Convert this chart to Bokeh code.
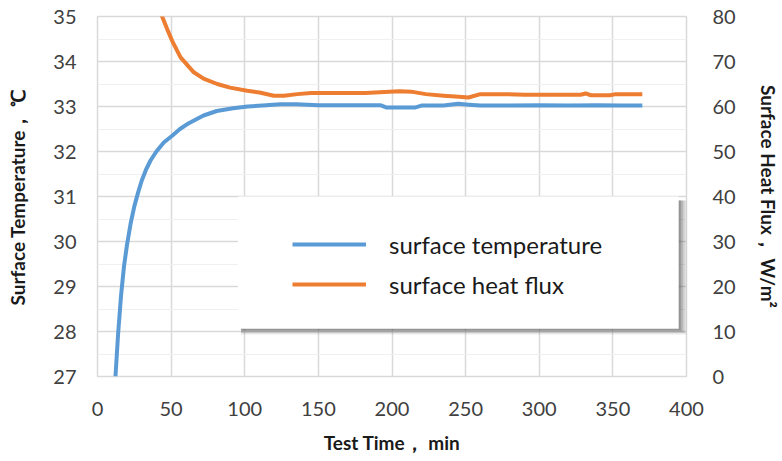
from bokeh.plotting import figure
from bokeh.models import Range1d, LinearAxis, FixedTicker, BoxAnnotation, Legend, LegendItem
from bokeh.embed import file_html
from bokeh.resources import INLINE

# ---------------- data ----------------
time_temp = [12.2, 14.0, 16.0, 18.0, 20.0, 22.5, 25.0, 27.5, 30.0, 33.0, 36.0, 40.0, 45.0, 50.7,
             56.0, 62.0, 72.0, 81.0, 92.0, 102.0, 112.0, 124.0, 135.0, 150.0, 165.0, 180.0,
             192.0, 196.0, 205.0, 216.0, 220.0, 235.0, 245.0, 252.0, 260.0, 280.0, 300.0,
             320.0, 340.0, 355.0, 370.0]
surface_temp = [27.0, 27.95, 28.8, 29.45, 29.92, 30.4, 30.78, 31.08, 31.35, 31.6, 31.8, 32.0, 32.2, 32.35,
                32.5, 32.63, 32.8, 32.9, 32.96, 33.0, 33.02, 33.05, 33.05, 33.03, 33.03, 33.03,
                33.03, 32.98, 32.98, 32.98, 33.02, 33.02, 33.06, 33.04, 33.02, 33.02, 33.03,
                33.02, 33.03, 33.02, 33.02]

time_flux = [40.0, 43.9, 47.3, 50.7, 56.4, 65.4, 72.0, 81.3, 90.0, 101.7, 110.0, 119.8, 126.6,
             135.7, 145.0, 160.0, 182.0, 195.0, 205.0, 213.0, 223.0, 235.0, 243.0, 252.0, 260.0,
             275.0, 290.0, 310.0, 328.0, 331.5, 335.0, 348.0, 352.0, 370.0]
heat_flux = [83.0, 80.0, 77.2, 74.6, 70.9, 67.6, 66.2, 65.0, 64.2, 63.5, 63.1, 62.4, 62.4,
             62.75, 63.0, 63.0, 63.0, 63.2, 63.4, 63.3, 62.75, 62.4, 62.2, 62.0, 62.75,
             62.75, 62.6, 62.6, 62.6, 62.9, 62.5, 62.5, 62.75, 62.75]

x_ticks = [0, 50, 100, 150, 200, 250, 300, 350, 400]
temp_ticks = [27, 28, 29, 30, 31, 32, 33, 34, 35]
temp_minor = [27.5, 28.5, 29.5, 30.5, 31.5, 32.5, 33.5, 34.5]
flux_ticks = [0, 10, 20, 30, 40, 50, 60, 70, 80]

series_names = ["surface temperature", "surface heat flux"]

# ---------------- styling / layout ----------------
BLUE = "#5b9bd5"
ORANGE = "#ed7d31"
GRID = "#d9d9d9"

p = figure(width=782, height=461, output_backend="svg", toolbar_location=None,
           x_range=Range1d(0, 400), y_range=Range1d(27, 35),
           min_border_left=97, min_border_right=96, min_border_top=16, min_border_bottom=85)
p.extra_y_ranges = {"flux": Range1d(0, 80)}

p.background_fill_color = "white"
p.border_fill_color = "white"
p.outline_line_color = GRID
p.outline_line_width = 1.5

p.xaxis.ticker = FixedTicker(ticks=x_ticks)
p.yaxis.ticker = FixedTicker(ticks=temp_ticks, minor_ticks=temp_minor)

right_axis = LinearAxis(y_range_name="flux", ticker=FixedTicker(ticks=flux_ticks))
p.add_layout(right_axis, "right")

for ax in [p.xaxis[0], p.yaxis[0], right_axis]:
    ax.axis_line_color = None
    ax.major_tick_line_color = None
    ax.minor_tick_line_color = None
    ax.major_label_text_font = "Lato"
    ax.major_label_text_font_size = "20px"
    ax.major_label_text_color = "#404040"
    ax.axis_label_text_font = "Lato"
    ax.axis_label_text_font_style = "bold"
    ax.axis_label_text_font_size = "19px"
    ax.axis_label_text_color = "#1a1a1a"

p.xaxis.axis_label = "Test Time， min"
p.xaxis.major_label_standoff = 19
p.xaxis.axis_label_standoff = 12
p.yaxis[0].axis_label = "Surface Temperature， ℃"
p.yaxis[0].major_label_standoff = 15
p.yaxis[0].axis_label_standoff = 21
right_axis.axis_label = "Surface Heat Flux， W/m²"
right_axis.major_label_standoff = 20
right_axis.axis_label_standoff = 18

p.xgrid.grid_line_color = GRID
p.xgrid.grid_line_width = 1.5
p.ygrid.grid_line_color = GRID
p.ygrid.grid_line_width = 1.5
p.ygrid.minor_grid_line_color = "#f0f0f0"
p.ygrid.minor_grid_line_width = 1

r_temp = p.line(time_temp, surface_temp, line_color=BLUE, line_width=4, line_join="round")
r_flux = p.line(time_flux, heat_flux, line_color=ORANGE, line_width=4, line_join="round",
                y_range_name="flux")

# legend box with a soft shadow (layered translucent boxes)
BOX_L, BOX_R, BOX_T, BOX_B = 95.4, 394.7, 31.0, 28.06
PX_T, PX_Y = 0.68, 0.0222
for off, alpha in [(8, 0.12), (6, 0.16), (4, 0.2), (2, 0.25)]:
    p.add_layout(BoxAnnotation(left=BOX_L + 3 * PX_T, right=BOX_R + off * PX_T,
                               top=BOX_T - 4 * PX_Y, bottom=BOX_B - (off * 0.7) * PX_Y,
                               fill_color="#404040", fill_alpha=alpha, line_color=None))
p.add_layout(BoxAnnotation(left=BOX_L, right=BOX_R, top=BOX_T, bottom=BOX_B,
                           fill_color="white", fill_alpha=1.0, line_color=None))

legend = Legend(items=[LegendItem(label=series_names[0], renderers=[r_temp]),
                       LegendItem(label=series_names[1], renderers=[r_flux])],
                location=(195, 77), orientation="vertical",
                background_fill_alpha=0, border_line_color=None,
                padding=0, margin=0, spacing=10,
                glyph_width=74, glyph_height=30, label_height=30, label_standoff=23,
                label_text_font="Lato", label_text_font_size="24px",
                label_text_color="#1a1a1a")
p.add_layout(legend, "center")

open("out.html", "w").write(file_html(p, INLINE))
